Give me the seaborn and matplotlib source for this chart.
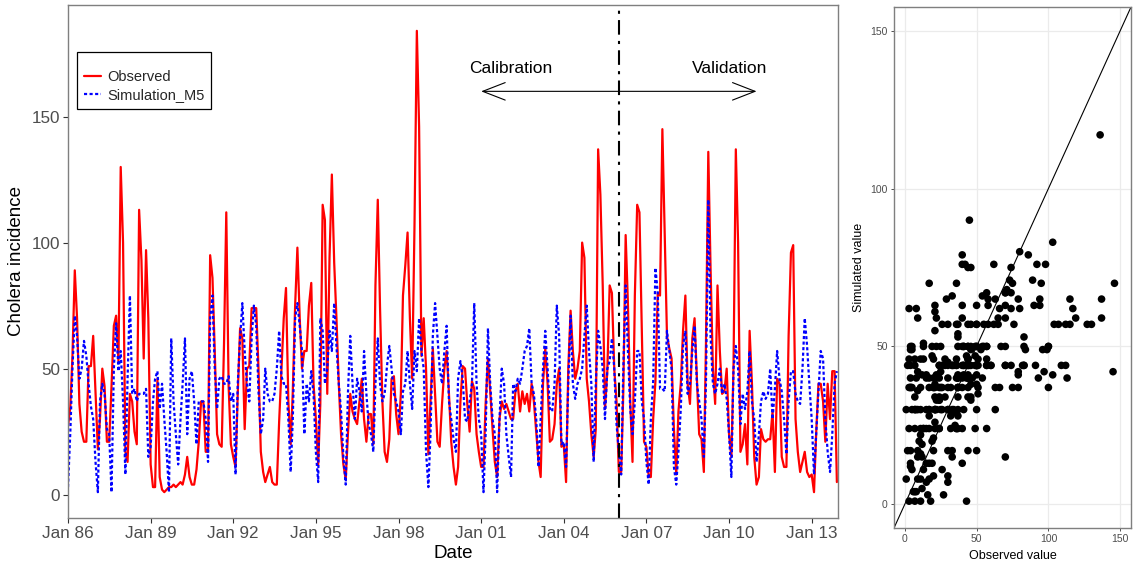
import numpy as np
import pandas as pd
import matplotlib
matplotlib.use('Agg')
import matplotlib.pyplot as plt
from matplotlib.lines import Line2D
import seaborn as sns

start_month = '1986-01-01'

observed = [
    27, 35, 55, 89, 70, 36, 25, 21, 21, 51, 51, 63,
    40, 18, 30, 50, 43, 21, 21, 43, 67, 71, 53, 130,
    100, 17, 13, 40, 37, 25, 20, 113, 93, 54, 97, 70,
    12, 3, 3, 46, 7, 2, 1, 2, 3, 3, 4, 3,
    4, 5, 4, 8, 15, 7, 4, 4, 10, 21, 37, 37,
    17, 17, 95, 86, 57, 24, 20, 19, 60, 112, 43, 20,
    15, 11, 40, 66, 62, 26, 50, 51, 74, 74, 74, 50,
    17, 9, 5, 8, 11, 5, 4, 4, 29, 49, 70, 82,
    37, 20, 41, 75, 98, 70, 50, 57, 57, 75, 84, 44,
    30, 12, 36, 115, 109, 40, 94, 127, 92, 70, 44, 24,
    12, 6, 24, 40, 33, 30, 28, 37, 46, 30, 21, 32,
    32, 20, 83, 117, 74, 37, 17, 13, 22, 46, 47, 32,
    24, 40, 79, 91, 104, 70, 46, 107, 184, 146, 55, 70,
    50, 16, 37, 58, 40, 21, 19, 36, 50, 57, 40, 21,
    11, 4, 11, 37, 51, 50, 36, 25, 45, 42, 24, 17,
    11, 11, 36, 54, 41, 26, 13, 7, 30, 37, 34, 36,
    33, 30, 30, 41, 44, 33, 41, 36, 40, 33, 44, 37,
    25, 13, 7, 44, 58, 44, 21, 22, 28, 44, 50, 19,
    20, 5, 50, 73, 57, 46, 50, 57, 100, 94, 46, 37,
    24, 15, 26, 137, 119, 83, 34, 49, 83, 80, 50, 37,
    9, 9, 41, 103, 76, 37, 13, 79, 115, 112, 66, 21,
    19, 7, 7, 30, 45, 80, 79, 145, 103, 63, 58, 54,
    26, 8, 33, 44, 65, 79, 44, 36, 62, 70, 46, 24,
    22, 9, 60, 136, 90, 50, 36, 83, 57, 40, 41, 50,
    24, 15, 50, 137, 100, 17, 20, 28, 12, 65, 44, 15,
    4, 7, 26, 22, 21, 22, 22, 33, 9, 46, 44, 15,
    11, 11, 63, 96, 99, 30, 17, 9, 13, 17, 9, 7,
    8, 1, 24, 44, 44, 37, 21, 44, 30, 49, 49, 5,
]

simulated = [
    3, 25, 50, 71, 63, 46, 50, 61, 55, 44, 35, 30,
    13, 1, 37, 44, 40, 26, 24, 1, 50, 68, 49, 57,
    37, 8, 46, 79, 40, 42, 37, 40, 40, 40, 42, 15,
    19, 37, 46, 49, 34, 44, 30, 17, 1, 62, 37, 24,
    12, 30, 44, 62, 24, 46, 49, 37, 20, 37, 37, 37,
    30, 13, 70, 79, 50, 34, 46, 47, 44, 44, 47, 37,
    40, 8, 44, 62, 76, 57, 44, 37, 62, 75, 67, 41,
    24, 30, 50, 40, 37, 37, 40, 50, 65, 47, 44, 44,
    30, 9, 30, 70, 76, 67, 57, 24, 44, 37, 49, 40,
    17, 5, 70, 65, 44, 50, 65, 57, 76, 59, 44, 33,
    15, 4, 40, 63, 44, 30, 46, 41, 33, 57, 40, 28,
    24, 17, 44, 62, 44, 37, 40, 51, 59, 50, 40, 37,
    33, 24, 41, 44, 57, 44, 34, 57, 49, 70, 57, 50,
    17, 3, 24, 63, 76, 63, 50, 44, 57, 67, 37, 30,
    22, 17, 46, 53, 46, 30, 29, 37, 44, 76, 44, 30,
    24, 1, 24, 66, 44, 30, 24, 1, 30, 50, 44, 24,
    15, 7, 44, 41, 46, 44, 50, 57, 59, 66, 44, 40,
    30, 11, 30, 50, 65, 50, 34, 33, 44, 75, 63, 20,
    21, 11, 44, 71, 44, 38, 44, 46, 50, 63, 75, 57,
    44, 13, 44, 65, 59, 50, 30, 50, 53, 62, 50, 28,
    17, 8, 50, 83, 57, 34, 24, 37, 57, 57, 37, 30,
    13, 4, 30, 45, 90, 80, 42, 42, 41, 65, 57, 50,
    11, 4, 17, 34, 59, 65, 40, 44, 57, 67, 44, 37,
    30, 15, 44, 117, 63, 44, 40, 44, 50, 40, 44, 38,
    24, 7, 50, 59, 50, 28, 40, 34, 41, 57, 37, 30,
    13, 24, 37, 41, 38, 40, 50, 30, 42, 57, 46, 41,
    30, 16, 37, 49, 49, 40, 37, 36, 50, 70, 59, 44,
    30, 8, 24, 41, 57, 54, 30, 17, 9, 24, 44, 49,
]

series_labels = ['Observed', 'Simulation_M5']
split_date = '2006-01-01'
calib_arrow = ['2001-01-01', '2011-01-01']
x_tick_dates = ['1986-01-01', '1989-01-01', '1992-01-01', '1995-01-01', '1998-01-01',
                '2001-01-01', '2004-01-01', '2007-01-01', '2010-01-01', '2013-01-01']
x_tick_labels = ['Jan 86', 'Jan 89', 'Jan 92', 'Jan 95', 'Jan 98',
                 'Jan 01', 'Jan 04', 'Jan 07', 'Jan 10', 'Jan 13']
y_ticks = [0, 50, 100, 150]
scatter_ticks = [0, 50, 100, 150]

dates = pd.date_range(start_month, periods=len(observed), freq='MS')
df = pd.DataFrame({'Date': dates, 'Observed': observed, 'Simulation_M5': simulated})

sns.set_theme(style='white')
plt.rcParams['font.family'] = ['Liberation Sans', 'DejaVu Sans']

fig = plt.figure(figsize=(11.34, 5.69), dpi=100)
ax = fig.add_axes([68/1134, 51/569, 770/1134, 513/569])
ax2 = fig.add_axes([894/1134, 41/569, 237/1134, 521/569])

dot = (0, (1.4, 1.1))
dashdot = (0, (7, 3, 1.5, 3))

# ---- time series ----
sns.lineplot(data=df, x='Date', y='Observed', ax=ax, color='#FF0000', linewidth=1.6)
sns.lineplot(data=df, x='Date', y='Simulation_M5', ax=ax, color='#0000FF', linewidth=1.6)
ax.lines[1].set_linestyle(dot)

ax.axvline(pd.Timestamp(split_date), color='black', linewidth=1.5, linestyle=dashdot)

ax.annotate('', xy=(pd.Timestamp(calib_arrow[0]), 160), xytext=(pd.Timestamp(calib_arrow[1]), 160),
            arrowprops=dict(arrowstyle='<->,head_length=0.9,head_width=0.35', color='black',
                            lw=0.8, shrinkA=0, shrinkB=0, mutation_scale=18))
ax.text(pd.Timestamp('2002-02-01'), 169, 'Calibration', ha='center', va='center', fontsize=12.5, color='black')
ax.text(pd.Timestamp('2010-01-15'), 169, 'Validation', ha='center', va='center', fontsize=12.5, color='black')

ax.set_xlim(dates[0], dates[-1] + pd.Timedelta(days=15))
ax.set_ylim(-9.25, 194.25)
ax.set_yticks(y_ticks)
ax.set_xticks([pd.Timestamp(d) for d in x_tick_dates])
ax.set_xticklabels(x_tick_labels)
ax.tick_params(axis='both', which='major', direction='out', length=3.5, width=0.8,
               color='#333333', labelsize=12.3, labelcolor='#4D4D4D',
               bottom=True, left=True, pad=2)
ax.set_xlabel('Date', fontsize=13.5, color='black', labelpad=3)
ax.set_ylabel('Cholera incidence', fontsize=13.5, color='black', labelpad=5)
for s in ax.spines.values():
    s.set_color('#7F7F7F')
    s.set_linewidth(1.0)
ax.grid(False)

handles = [Line2D([], [], color='#FF0000', lw=1.6),
           Line2D([], [], color='#0000FF', lw=1.6, linestyle=dot)]
leg = ax.legend(handles, series_labels, loc='upper left', bbox_to_anchor=(0.0117, 0.908),
                borderaxespad=0, frameon=True, fancybox=False, edgecolor='black', framealpha=1,
                title=' ', title_fontsize=6, fontsize=10.5, handlelength=1.2,
                handletextpad=0.4, borderpad=0.45, labelspacing=0.3)
leg.get_frame().set_linewidth(0.9)

# ---- scatter ----
ax2.set_axisbelow(True)
ax2.grid(True, color='#EBEBEB', linewidth=0.9)
sns.scatterplot(data=df, x='Observed', y='Simulation_M5', ax=ax2, color='black',
                s=30, edgecolor='none', linewidth=0, zorder=3)
ax2.axline((0, 0), slope=1, color='black', linewidth=0.8, zorder=2)
ax2.set_xlim(-7.5, 157.5)
ax2.set_ylim(-7.5, 157.5)
ax2.set_xticks(scatter_ticks)
ax2.set_yticks(scatter_ticks)
ax2.tick_params(axis='both', which='major', direction='out', length=2.5, width=0.6,
                color='#333333', labelsize=7.5, labelcolor='#4D4D4D',
                bottom=True, left=True, pad=2)
ax2.set_xlabel('Observed value', fontsize=9, color='black', labelpad=4)
ax2.set_ylabel('Simulated value', fontsize=9, color='black', labelpad=4)
for s in ax2.spines.values():
    s.set_color('#7F7F7F')
    s.set_linewidth(1.0)

fig.savefig('out.png', dpi=100)
